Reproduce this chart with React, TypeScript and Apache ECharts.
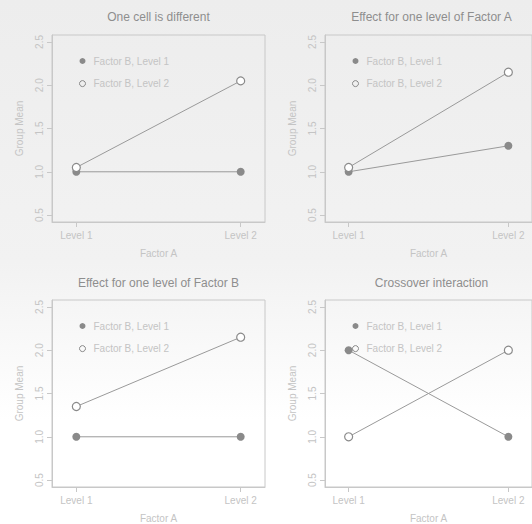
import React, { useEffect, useRef } from 'react';
import * as echarts from 'echarts';

const panelTitles = [
  'One cell is different',
  'Effect for one level of Factor A',
  'Effect for one level of Factor B',
  'Crossover interaction',
];
const factorALevels = ['Level 1', 'Level 2'];
const factorAPositions = [1, 2];
const seriesNames = ['Factor B, Level 1', 'Factor B, Level 2'];
const factorB1Means = [
  [1.0, 1.0],
  [1.0, 1.3],
  [1.0, 1.0],
  [2.0, 1.0],
];
const factorB2Means = [
  [1.05, 2.05],
  [1.05, 2.15],
  [1.35, 2.15],
  [1.0, 2.0],
];
const yTickValues = [0.5, 1.0, 1.5, 2.0, 2.5];
const xTitle = 'Factor A';
const yTitle = 'Group Mean';

const FONT = '"Liberation Sans", Arial, Helvetica, sans-serif';
const BOX = '#c8c8c8';
const LIGHT_TEXT = '#c4c4c4';
const TITLE_TEXT = '#8e8e8e';
const LINE = '#9a9a9a';
const POINT = '#8a8a8a';

const colLeft = [52, 325];
const rowTop = [35, 300];
const titleTop = [11, 277];
const gridW = 213;
const gridH = 187;

export default function App() {
  const ref = useRef<HTMLDivElement>(null);
  useEffect(() => {
    if (!ref.current) return;
    const chart = echarts.init(ref.current, undefined, { renderer: 'svg' });
    const grids: any[] = [];
    const xAxes: any[] = [];
    const yAxes: any[] = [];
    const titles: any[] = [];
    const legends: any[] = [];
    const series: any[] = [];
    panelTitles.forEach((t, i) => {
      const col = i % 2;
      const row = Math.floor(i / 2);
      const left = colLeft[col];
      const top = rowTop[row];
      grids.push({
        left,
        top,
        width: gridW,
        height: gridH,
        show: true,
        borderColor: BOX,
        borderWidth: 1,
        backgroundColor: 'transparent',
        containLabel: false,
      });
      titles.push({
        text: t,
        left: left + gridW / 2,
        top: titleTop[row],
        textAlign: 'center',
        padding: 0,
        textStyle: { fontFamily: FONT, fontSize: 12, fontWeight: 'normal', color: TITLE_TEXT },
      });
      xAxes.push({
        type: 'value',
        gridIndex: i,
        min: 0.852,
        max: 2.148,
        name: xTitle,
        nameLocation: 'middle',
        nameGap: 26,
        nameTextStyle: { fontFamily: FONT, fontSize: 10, color: LIGHT_TEXT },
        axisLine: { show: true, lineStyle: { color: BOX, width: 1 } },
        axisTick: { show: true, length: 5, customValues: factorAPositions, lineStyle: { color: BOX } },
        axisLabel: {
          customValues: factorAPositions,
          formatter: (v: number) => factorALevels[factorAPositions.indexOf(Math.round(v))] ?? '',
          fontFamily: FONT,
          fontSize: 10,
          color: LIGHT_TEXT,
          margin: 8,
        },
        splitLine: { show: false },
      });
      yAxes.push({
        type: 'value',
        gridIndex: i,
        min: 0.42,
        max: 2.58,
        name: yTitle,
        nameLocation: 'middle',
        nameGap: 28,
        nameTextStyle: { fontFamily: FONT, fontSize: 10, color: LIGHT_TEXT },
        axisLine: { show: true, lineStyle: { color: BOX, width: 1 } },
        axisTick: { show: true, length: 5, customValues: yTickValues, lineStyle: { color: BOX } },
        axisLabel: {
          customValues: yTickValues,
          rotate: 90,
          formatter: (v: number) => v.toFixed(1),
          fontFamily: FONT,
          fontSize: 10,
          color: LIGHT_TEXT,
          margin: 8,
        },
        splitLine: { show: false },
      });
      legends.push({
        orient: 'vertical',
        left: left + 27,
        top: top + 20,
        padding: 0,
        itemWidth: 12,
        itemHeight: 6,
        itemGap: 10.6,
        selectedMode: false,
        textStyle: { fontFamily: FONT, fontSize: 10, color: LIGHT_TEXT, lineHeight: 12 },
        data: [
          { name: seriesNames[0], icon: 'circle', itemStyle: { color: POINT, borderWidth: 0 } },
          { name: seriesNames[1], icon: 'circle', itemStyle: { color: 'rgba(0,0,0,0)', borderColor: POINT, borderWidth: 1 } },
        ],
      });
      series.push({
        type: 'line',
        name: seriesNames[0],
        xAxisIndex: i,
        yAxisIndex: i,
        data: factorAPositions.map((x, k) => [x, factorB1Means[i][k]]),
        symbol: 'circle',
        symbolSize: 8,
        lineStyle: { color: LINE, width: 1 },
        itemStyle: { color: POINT, borderWidth: 0 },
        clip: false,
      });
      series.push({
        type: 'line',
        name: seriesNames[1],
        xAxisIndex: i,
        yAxisIndex: i,
        data: factorAPositions.map((x, k) => [x, factorB2Means[i][k]]),
        symbol: 'circle',
        symbolSize: 8,
        lineStyle: { color: LINE, width: 1 },
        itemStyle: { color: '#ffffff', borderColor: POINT, borderWidth: 1.2 },
        clip: false,
      });
    });
    chart.setOption({
      animation: false,
      backgroundColor: {
        type: 'linear',
        x: 0,
        y: 0,
        x2: 0,
        y2: 1,
        colorStops: [
          { offset: 0, color: '#ededed' },
          { offset: 0.5, color: '#f2f2f2' },
          { offset: 0.8, color: '#ffffff' },
          { offset: 1, color: '#ffffff' },
        ],
      },
      title: titles,
      legend: legends,
      grid: grids,
      xAxis: xAxes,
      yAxis: yAxes,
      series,
    });
    return () => chart.dispose();
  }, []);
  return <div ref={ref} style={{ position: 'fixed', left: 0, top: 0, width: 532, height: 524 }} />;
}
